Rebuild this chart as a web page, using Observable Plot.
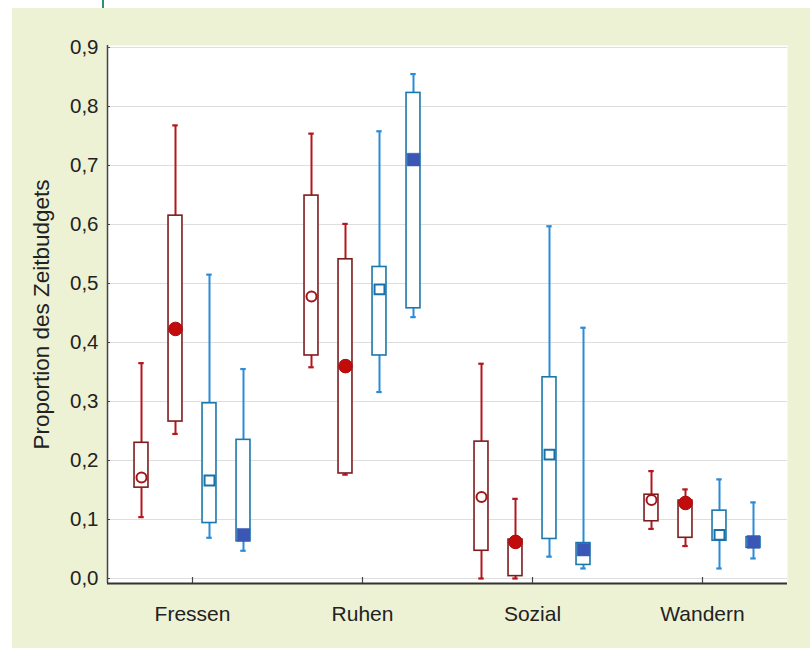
<!DOCTYPE html>
<html><head><meta charset="utf-8">
<script src="https://cdn.jsdelivr.net/npm/d3@7"></script>
<script src="https://cdn.jsdelivr.net/npm/@observablehq/plot@0.6"></script>
<style>
body{margin:0;background:#fff;}
#wrap{position:relative;width:810px;height:648px;overflow:hidden;font-family:"Liberation Sans",Arial,sans-serif;}
#panel{position:absolute;left:12px;top:8px;right:0;bottom:0;background:#edf2d5;}
#mark{position:absolute;left:102px;top:0;width:2px;height:8px;background:#2f8f74;}
#chart{position:absolute;left:0;top:0;}
</style></head><body>
<div id="wrap"><div id="panel"></div><div id="mark"></div><div id="chart"></div></div>
<script>
// categories and y tick labels
const categories = ["Fressen", "Ruhen", "Sozial", "Wandern"];
const yTicks = [0, 0.1, 0.2, 0.3, 0.4, 0.5, 0.6, 0.7, 0.8, 0.9];
const yTitle = "Proportion des Zeitbudgets";
// each row: [whisker low, box low, marker, box high, whisker high] per category
const seriesA = [[0.104,0.154,0.171,0.230,0.365],[0.358,0.378,0.478,0.649,0.754],[0.000,0.047,0.138,0.232,0.364],[0.084,0.097,0.133,0.142,0.182]];
const seriesB = [[0.245,0.266,0.423,0.615,0.768],[0.176,0.178,0.360,0.541,0.601],[0.000,0.004,0.062,0.066,0.135],[0.055,0.069,0.128,0.132,0.151]];
const seriesC = [[0.069,0.094,0.166,0.297,0.515],[0.316,0.378,0.490,0.528,0.758],[0.037,0.067,0.210,0.341,0.597],[0.017,0.064,0.074,0.115,0.168]];
const seriesD = [[0.047,0.063,0.074,0.235,0.355],[0.443,0.458,0.710,0.823,0.855],[0.017,0.023,0.049,0.060,0.425],[0.034,0.052,0.062,0.070,0.129]];

const seriesList = [
  {vals: seriesA, off: -0.3, whisker: "#b3161d", box: "#7d1c1f", symbol: "circle", r: 5, fill: "white", mstroke: "#a3151a", msw: 2},
  {vals: seriesB, off: -0.1, whisker: "#b3161d", box: "#7d1c1f", symbol: "circle", r: 6.8, fill: "#c20b0b", mstroke: "#b00a0a", msw: 1},
  {vals: seriesC, off: 0.1, whisker: "#2b8bd6", box: "#1b78aa", symbol: "square", r: 5.6, fill: "white", mstroke: "#1a70a8", msw: 2},
  {vals: seriesD, off: 0.3, whisker: "#2b8bd6", box: "#1b78aa", symbol: "square", r: 7.2, fill: "#3b57b6", mstroke: "#3b57b6", msw: 0.5}
];

const fmt = d => d3.format(".1f")(d).replace(".", ",");
const hw = 0.041, cw = 0.016;
const catIdx = categories.map((c, i) => i);

const marks = [
  Plot.frame({fill: "white", stroke: null}),
  Plot.ruleY(yTicks, {stroke: "#dedede", strokeWidth: 1})
];
for (const s of seriesList) {
  const rows = s.vals.map((v, i) => ({x: i + s.off, low: v[0], q1: v[1], mid: v[2], q3: v[3], high: v[4]}));
  marks.push(
    Plot.ruleX(rows, {x: "x", y1: "low", y2: "high", stroke: s.whisker, strokeWidth: 2}),
    Plot.ruleY(rows, {y: "high", x1: d => d.x - cw, x2: d => d.x + cw, stroke: s.whisker, strokeWidth: 2.2}),
    Plot.ruleY(rows, {y: "low", x1: d => d.x - cw, x2: d => d.x + cw, stroke: s.whisker, strokeWidth: 2.2}),
    Plot.rect(rows, {x1: d => d.x - hw, x2: d => d.x + hw, y1: "q1", y2: "q3", fill: "white", stroke: s.box, strokeWidth: 1.6}),
    Plot.dot(rows, {x: "x", y: "mid", symbol: s.symbol, r: s.r, fill: s.fill, stroke: s.mstroke, strokeWidth: s.msw})
  );
}
marks.push(
  Plot.ruleX([-0.5], {stroke: "#444", strokeWidth: 1.5}),
  Plot.ruleY([0], {dy: 5, stroke: "#333", strokeWidth: 2}),
  // inward y ticks
  Plot.ruleY(yTicks, {y: d => d, x1: -0.5, x2: -0.5, insetRight: -3, stroke: "#444", strokeWidth: 1}),
  // upward x ticks
  Plot.ruleX(catIdx, {x: d => d, y1: 0, y2: 0, insetTop: -1, insetBottom: -5, stroke: "#444", strokeWidth: 1.2}),
  Plot.axisY({ticks: yTicks, tickFormat: fmt, tickSize: 0, tickPadding: 9, fontSize: 20.5, fill: "#222", label: null}),
  Plot.axisX({ticks: catIdx, tickFormat: i => categories[i], tickSize: 0, tickPadding: 23, fontSize: 21, fill: "#222", label: null}),
  Plot.text([yTitle], {frameAnchor: "left", textAnchor: "middle", rotate: -90, dx: -66, dy: 0, fontSize: 22.5, fill: "#222"})
);

const chart = Plot.plot({
  width: 810, height: 648,
  marginLeft: 107, marginRight: 23, marginTop: 45, marginBottom: 65,
  style: {background: "transparent", fontFamily: "Liberation Sans, Arial, sans-serif"},
  x: {domain: [-0.5, 3.5]},
  y: {domain: [0, 0.9], insetTop: 2, insetBottom: 5},
  marks
});
document.getElementById("chart").appendChild(chart);
</script>
</body></html>
